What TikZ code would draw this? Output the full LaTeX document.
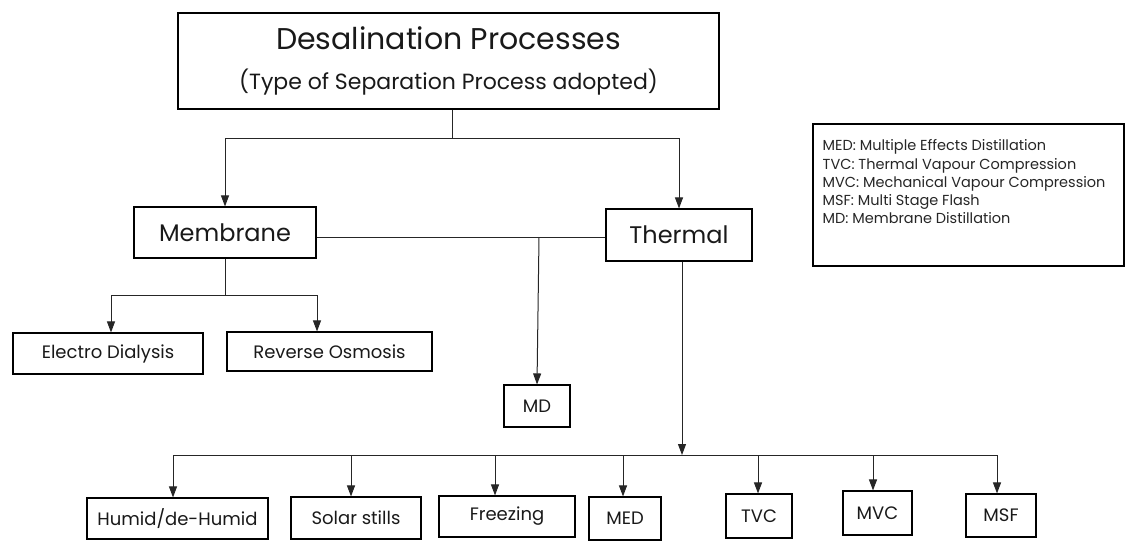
\documentclass[tikz,border=0pt]{standalone}
\usepackage{fontspec}
\setmainfont{Poppins}
\usetikzlibrary{arrows.meta,calc}
\newcommand{\fs}[2]{\fontsize{#1}{#2}\selectfont}
\tikzset{
  box/.style={draw, line width=1.1pt, inner sep=0pt, align=center, text=black!90},
  big/.style={font=\fs{24}{28}},
  small/.style={font=\fs{18}{22}},
  link/.style={line width=1pt, draw=black!85},
  arr/.style={link, -{Triangle[length=11pt,width=8pt]}},
}
\begin{document}
\begin{tikzpicture}[x=1pt,y=-1pt]
\useasboundingbox (0,0) rectangle (1129,541);
% main boxes
\node[box, minimum width=541pt, minimum height=96pt, font=\fs{30}{40}] (title) at (448.5,61)
  {Desalination Processes\\{\fs{22}{40}(Type of Separation Process adopted)}};
\node[box, big, minimum width=182pt, minimum height=51pt] (membrane) at (225,232.5) {Membrane};
\node[box, big, minimum width=146pt, minimum height=52pt] (thermal) at (679,235) {Thermal};
\node[box, small, minimum width=190pt, minimum height=41pt] (electro) at (108,353.5) {Electro Dialysis};
\node[box, small, minimum width=205pt, minimum height=39pt] (reverse) at (329.5,351.5) {Reverse Osmosis};
\node[box, small, minimum width=66pt, minimum height=42pt] (md) at (537,406) {MD};
% bottom boxes
\node[box, small, minimum width=181pt, minimum height=41pt] (humid) at (177.5,518.5) {Humid/de-Humid};
\node[box, small, minimum width=130pt, minimum height=42pt] (solar) at (356,518) {Solar stills};
\node[box, small, minimum width=136pt, minimum height=41pt] (freezing) at (507,516.5) {Freezing};
\node[box, small, minimum width=72pt, minimum height=43pt] (med) at (625,518.5) {MED};
\node[box, small, minimum width=66pt, minimum height=44pt] (tvc) at (759,516) {TVC};
\node[box, small, minimum width=69pt, minimum height=44pt] (mvc) at (877.5,513) {MVC};
\node[box, small, minimum width=70pt, minimum height=43pt] (msf) at (1001,515.5) {MSF};
% legend
\node[box, minimum width=311pt, minimum height=142pt] (legend) at (968.5,195) {};
\node[anchor=north west, align=left, inner sep=0pt, text=black!85, font=\fs{14.5}{18.3}] (legendtext) at ($(legend.north west)+(10,16)$)
  {MED: Multiple Effects Distillation\\
   TVC: Thermal Vapour Compression\\
   MVC: Mechanical Vapour Compression\\
   MSF: Multi Stage Flash\\
   MD: Membrane Distillation};
% junctions
\coordinate (j1) at (452,138);
\coordinate (mt) at (539,237);
\coordinate (j2) at (225,295);
\coordinate (j3) at (682,455);
% title to membrane / thermal
\draw[link] (title.south -| j1) -- (j1);
\draw[arr] (j1) -| (membrane.north);
\draw[arr] (j1) -| (thermal.north);
% membrane - thermal line and MD
\draw[link] (membrane.east |- mt) -- (thermal.west |- mt);
\draw[arr] (mt) -- (md.north);
% membrane branches
\draw[link] (membrane.south) -- (j2);
\draw[arr] (j2) -| ($(electro.north)+(3,0)$);
\draw[arr] (j2) -| ($(reverse.north)+(-12.5,0)$);
% thermal branches
\draw[arr] (thermal.south -| j3) -- (j3);
\draw[link] ($(humid.north |- j3)+(-4.5,0)$) -- ($(msf.north |- j3)+(-4,0)$);
\draw[arr] ($(humid.north |- j3)+(-4.5,0)$) -- ($(humid.north)+(-4.5,0)$);
\draw[arr] ($(solar.north |- j3)+(-5,0)$) -- ($(solar.north)+(-5,0)$);
\draw[arr] ($(freezing.north |- j3)+(-12,0)$) -- ($(freezing.north)+(-12,0)$);
\draw[arr] ($(med.north |- j3)+(-2,0)$) -- ($(med.north)+(-2,0)$);
\draw[arr] ($(tvc.north |- j3)+(-1,0)$) -- ($(tvc.north)+(-1,0)$);
\draw[arr] ($(mvc.north |- j3)+(-4.5,0)$) -- ($(mvc.north)+(-4.5,0)$);
\draw[arr] ($(msf.north |- j3)+(-4,0)$) -- ($(msf.north)+(-4,0)$);
\end{tikzpicture}
\end{document}
